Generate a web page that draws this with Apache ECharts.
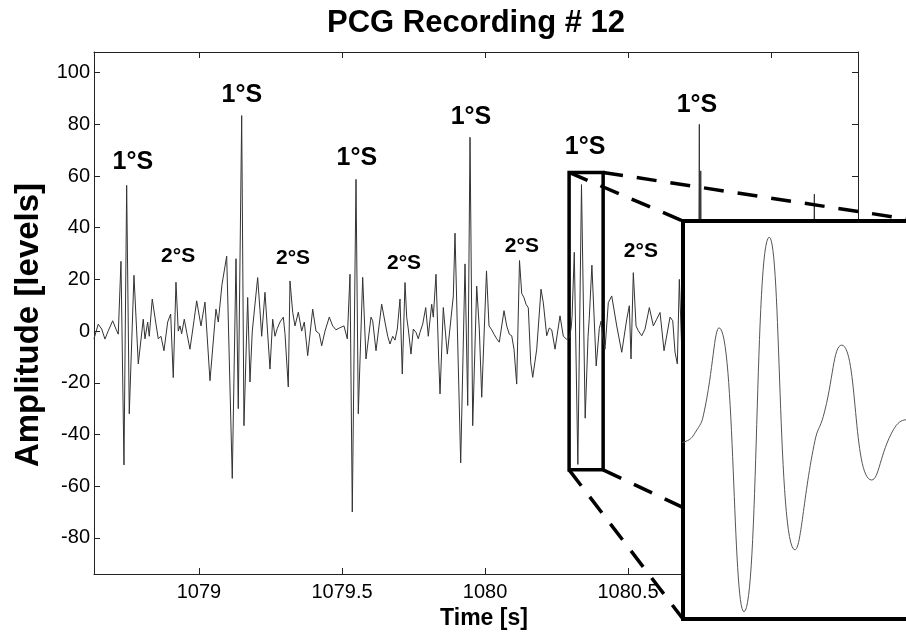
<!DOCTYPE html>
<html><head><meta charset="utf-8">
<script src="https://cdn.jsdelivr.net/npm/echarts@6/dist/echarts.min.js"></script>
<style>html,body{margin:0;padding:0;background:#fff}#c{width:906px;height:634px}</style>
</head><body><div id="c"></div>
<script>
// ---- data ----
const timeS = [
1078.6329,1078.6364,1078.6479,1078.6598,1078.6713,1078.6829,1078.6983,1078.7098,1078.7178,1078.7273,
1078.7378,1078.7472,1078.7563,1078.7727,1078.7878,1078.8052,1078.8112,1078.8206,1078.8262,1078.8367,
1078.8486,1078.8577,1078.8671,1078.8776,1078.8906,1078.9010,1078.9101,1078.9196,1078.9276,1078.9336,
1078.9395,1078.9486,1078.9570,1078.9685,1078.9825,1078.9920,1079.0070,1079.0210,1079.0385,1079.0594,
1079.0675,1079.0804,1079.0969,1079.1164,1079.1294,1079.1374,1079.1493,1079.1573,1079.1703,1079.1783,
1079.1864,1079.2052,1079.2133,1079.2192,1079.2308,1079.2483,1079.2577,1079.2657,1079.2738,1079.2832,
1079.2948,1079.3007,1079.3122,1079.3182,1079.3276,1079.3357,1079.3472,1079.3591,1079.3682,1079.3801,
1079.3976,1079.4091,1079.4206,1079.4290,1079.4406,1079.4556,1079.4675,1079.4790,1079.4906,1079.5070,
1079.5185,1079.5280,1079.5360,1079.5490,1079.5570,1079.5724,1079.5839,1079.6014,1079.6073,1079.6189,
1079.6388,1079.6503,1079.6598,1079.6678,1079.6773,1079.6853,1079.6934,1079.7028,1079.7108,1079.7203,
1079.7262,1079.7318,1079.7413,1079.7493,1079.7587,1079.7668,1079.7727,1079.7822,1079.7927,1079.8017,
1079.8136,1079.8192,1079.8287,1079.8381,1079.8427,1079.8542,1079.8682,1079.8776,1079.8892,1079.8951,
1079.9150,1079.9301,1079.9395,1079.9476,1079.9570,1079.9710,1079.9801,1079.9885,1080.0052,1080.0140,
1080.0234,1080.0315,1080.0409,1080.0500,1080.0664,1080.0759,1080.0850,1080.0934,1080.1014,1080.1108,
1080.1206,1080.1283,1080.1364,1080.1434,1080.1514,1080.1598,1080.1668,1080.1808,1080.1958,1080.2038,
1080.2157,1080.2248,1080.2332,1080.2448,1080.2622,1080.2738,1080.2857,1080.2950,1080.3010,1080.3045,
1080.3121,1080.3246,1080.3373,1080.3502,1080.3603,1080.3644,1080.3737,1080.3887,1080.3996,1080.4060,
1080.4125,1080.4196,1080.4311,1080.4430,1080.4605,1080.4780,1080.4955,1080.5045,1080.5105,1080.5185,
1080.5280,1080.5360,1080.5479,1080.5594,1080.5745,1080.5885,1080.6003,1080.6119,1080.6259,1080.6469,
1080.6563,1080.6643,1080.6724,1080.6794,1080.6888,1080.7028,1080.7168,1080.7308,1080.7448,1080.7493,
1080.7517,1080.7542,1080.7587,1080.7657,1080.7762,1080.7867,1080.8007,1080.8217,1080.8427,1080.8671,
1080.8916,1080.9091,1080.9196,1080.9336,1080.9615,1080.9965,1081.0315,1081.0664,1081.1014,1081.1224,
1081.1364,1081.1434,1081.1514,1081.1573,1081.1678,1081.1818,1081.1993,1081.2238,1081.2483,1081.2762,
1081.3042
];
const amplitude = [
-3,-3,2.7,0.8,-3.1,0.1,4.0,0.8,-1.2,27,
-51.8,56.4,-32,21.6,-12.7,4.6,-3,3.5,-2,12.4,
3.5,-3,-2,-7.6,3.5,6.6,-18,18.9,0,2,
-1,4.6,-0.5,-7,4,11.7,2,11.2,-19.2,8.5,
3.5,18,29,-57,28,-30,83.4,-36.6,13,-19.7,
0,20.7,8,-2,15,-14.7,4.6,-2,1,3.5,
5.4,-1,-21.6,19.4,7.3,2,7.3,0,3.5,-9.5,
8.5,0,-1,-5.7,0,5.4,2,0.5,1.2,2,
-3,22,-70,58.7,-32,20.8,-10.8,5.4,4,-7.6,
10.4,3.5,-2,-5,-2,-3.5,0.8,12.4,-16.6,18.8,
5.4,0.8,-8.9,0.8,-0.5,-3,-0.5,2.7,9.1,-2,
10.4,5.4,22,-10.8,-24.3,9.1,-8.9,1.2,13.6,37.9,
-51,26,-28.8,75,-36.6,17.4,0.8,-25.6,23.3,2,
0.5,-1.2,-3,-4.3,7.9,2,-1.2,-1.8,-7,-20.5,
27.3,14.6,12.9,10.4,9,-12.1,-17.9,-7,16.2,11,
-1.8,1.2,0.5,-7,5.9,-2,-3.2,-2.4,1.0,5.9,
30.5,-51.6,56.7,-33.7,-2.0,4.8,25.5,-13.5,1.0,3.9,
-3,-7,11,13.6,2,-8.2,4.6,9.8,-10.8,22.6,
2,0.1,-1.8,0.8,9.1,2,4.6,7.2,-7.6,5.4,
4,-8.2,-12.7,20,-10,8,-6,15,-45,80,
-20,62,-48,20,-15,10,-8,5,-3,4,
10,-15,18,-5,4,-3,6,-5,15,-25,
30,-40,53,-30,20,-10,8,-5,3,-2,
1
];
const xTickValues = [1079, 1079.5, 1080, 1080.5, 1081];
const yTickValues = [-80, -60, -40, -20, 0, 20, 40, 60, 80, 100];
const xRange = [1078.633, 1081.304];
const yRange = [-94, 108];
const zoomTime = [1080.294, 1080.413];
const zoomAmp = [-53.7, 61.4];
const s1Label = '1°S';
const s1Times = [1078.769, 1079.150, 1079.552, 1079.951, 1080.350, 1080.741];
const s1Amp = [65.3, 91.2, 66.8, 82.7, 71.1, 87.3];
const s2Label = '2°S';
const s2Times = [1078.927, 1079.329, 1079.717, 1080.129, 1080.545];
const s2Amp = [29.0, 28.2, 26.3, 32.8, 30.9];
const titleText = 'PCG Recording # 12';
const xName = 'Time [s]';
const yName = 'Amplitude [levels]';

// ---- chart ----
const FONT = '"Liberation Sans", Arial, Helvetica, sans-serif';
const signal = timeS.map((t, i) => [t, amplitude[i]]);
const s1Data = s1Times.map((t, i) => [t, s1Amp[i]]);
const s2Data = s2Times.map((t, i) => [t, s2Amp[i]]);
const mainGrid = {left: 94, top: 52, width: 764, height: 522};
const axCol = '#222';

const chart = echarts.init(document.getElementById('c'), null, {renderer: 'canvas'});
const tickCommon = (vals) => ({show: true, inside: true, length: 6, customValues: vals, lineStyle: {color: axCol, width: 1}});
chart.setOption({
  animation: false,
  backgroundColor: '#fff',
  grid: [
    Object.assign({outerBoundsMode: 'none', containLabel: false}, mainGrid),
    {left: 683, top: 221, width: 237, height: 398, show: true, backgroundColor: '#fff',
     borderColor: '#000', borderWidth: 4, z: 10, outerBoundsMode: 'none', containLabel: false}
  ],
  xAxis: [
    {type: 'value', gridIndex: 0, position: 'bottom', min: xRange[0], max: xRange[1],
     axisLine: {show: true, onZero: false, lineStyle: {color: axCol, width: 1}},
     axisTick: tickCommon(xTickValues),
     axisLabel: {customValues: xTickValues, formatter: v => String(v), color: '#000', fontSize: 20, fontFamily: FONT, margin: 8},
     splitLine: {show: false},
     name: xName, nameLocation: 'middle', nameGap: 33,
     nameTextStyle: {color: '#000', fontSize: 23, fontWeight: 'bold', fontFamily: FONT, padding: [0, 0, 0, 16]}},
    {type: 'value', gridIndex: 0, position: 'top', min: xRange[0], max: xRange[1],
     axisLine: {show: true, onZero: false, lineStyle: {color: axCol, width: 1}},
     axisTick: tickCommon(xTickValues), axisLabel: {show: false}, splitLine: {show: false}},
    {type: 'value', gridIndex: 1, min: zoomTime[0], max: zoomTime[1], show: false}
  ],
  yAxis: [
    {type: 'value', gridIndex: 0, position: 'left', min: yRange[0], max: yRange[1],
     axisLine: {show: true, onZero: false, lineStyle: {color: axCol, width: 1}},
     axisTick: tickCommon(yTickValues),
     axisLabel: {customValues: yTickValues, formatter: v => String(v), color: '#000', fontSize: 20, fontFamily: FONT, margin: 4},
     splitLine: {show: false},
     name: yName, nameLocation: 'middle', nameGap: 49,
     nameTextStyle: {color: '#000', fontSize: 33, fontWeight: 'bold', fontFamily: FONT, padding: [0, 24, 0, 0]}},
    {type: 'value', gridIndex: 0, position: 'right', min: yRange[0], max: yRange[1],
     axisLine: {show: true, onZero: false, lineStyle: {color: axCol, width: 1}},
     axisTick: tickCommon(yTickValues), axisLabel: {show: false}, splitLine: {show: false}},
    {type: 'value', gridIndex: 1, min: zoomAmp[0], max: zoomAmp[1], show: false}
  ],
  series: [
    {type: 'line', xAxisIndex: 0, yAxisIndex: 0, data: signal, symbol: 'none', z: 2,
     lineStyle: {color: '#333', width: 1}, silent: true,
     markArea: {silent: true, itemStyle: {color: 'rgba(0,0,0,0)', borderColor: '#000', borderWidth: 3.5},
       data: [[{coord: [zoomTime[0], zoomAmp[1]]}, {coord: [zoomTime[1], zoomAmp[0]]}]]}},
    {type: 'line', xAxisIndex: 2, yAxisIndex: 2, data: signal, symbol: 'none', smooth: 0.5, z: 12,
     lineStyle: {color: '#555', width: 1}, silent: true},
    {type: 'scatter', xAxisIndex: 0, yAxisIndex: 0, data: s1Data, symbolSize: 1, z: 4,
     itemStyle: {color: 'rgba(0,0,0,0)', opacity: 1}, silent: true,
     label: {show: true, position: 'inside', formatter: s1Label, color: '#000', fontSize: 25, fontWeight: 'bold', fontFamily: FONT}},
    {type: 'scatter', xAxisIndex: 0, yAxisIndex: 0, data: s2Data, symbolSize: 1, z: 4,
     itemStyle: {color: 'rgba(0,0,0,0)', opacity: 1}, silent: true,
     label: {show: true, position: 'inside', formatter: s2Label, color: '#000', fontSize: 21, fontWeight: 'bold', fontFamily: FONT}}
  ]
});

// connector dashed lines from the zoom box to the inset corners, title
const px = (idx, p) => chart.convertToPixel({xAxisIndex: idx, yAxisIndex: idx}, p);
const corners = [[zoomTime[0], zoomAmp[1]], [zoomTime[1], zoomAmp[1]], [zoomTime[0], zoomAmp[0]], [zoomTime[1], zoomAmp[0]]];
const graphics = corners.map(c => {
  const a = px(0, c), b = px(2, c);
  return {type: 'line', z: 5, silent: true,
    shape: {x1: a[0], y1: a[1], x2: b[0], y2: b[1]},
    style: {stroke: '#000', lineWidth: 3.5, lineDash: [20, 14]}};
});
graphics.push({type: 'text', z: 20, x: mainGrid.left + mainGrid.width / 2, y: 23,
  style: {text: titleText, font: 'bold 31px ' + FONT, fill: '#000', textAlign: 'center', textVerticalAlign: 'middle'}});
chart.setOption({graphic: graphics});
</script></body></html>
